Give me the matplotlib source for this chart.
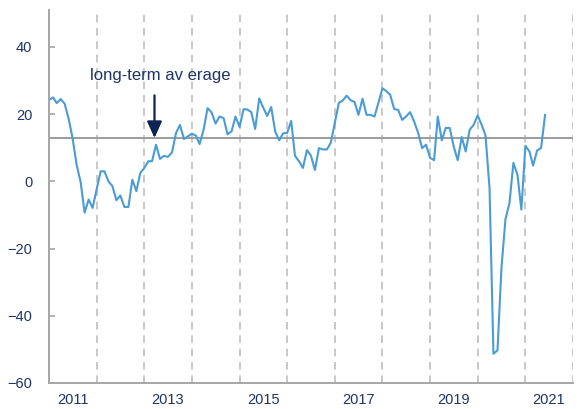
import pandas as pd
import matplotlib.pyplot as plt

# monthly index values, Jan 2011 - Jun 2021
values = [
    24.2, 25.0, 23.3, 24.5, 23.1, 18.6, 12.8, 4.9, -0.3, -9.3, -5.4, -7.9,      # 2011
    -2.4, 3.0, 3.0, 0.0, -1.4, -5.6, -4.2, -7.6, -7.6, 0.5, -2.9, 2.5,         # 2012
    4.0, 6.0, 6.0, 10.9, 6.7, 7.6, 7.3, 8.6, 14.4, 16.8, 12.6, 13.4,           # 2013
    14.2, 13.6, 11.1, 15.5, 21.8, 20.5, 17.2, 19.3, 18.8, 14.0, 14.9, 19.3,    # 2014
    16.2, 21.5, 21.4, 20.6, 15.6, 24.7, 22.0, 19.5, 22.1, 14.9, 12.2, 14.3,    # 2015
    14.4, 18.0, 7.6, 6.0, 4.0, 9.3, 7.7, 3.4, 9.9, 9.5, 9.5, 11.5,             # 2016
    17.5, 23.4, 24.0, 25.5, 24.2, 23.6, 19.8, 24.6, 19.8, 19.8, 19.3, 23.4,    # 2017
    27.7, 26.8, 25.8, 21.5, 21.3, 18.3, 19.3, 20.6, 17.8, 14.5, 9.9, 10.9,     # 2018
    7.0, 6.3, 19.3, 12.2, 15.9, 15.9, 10.4, 6.3, 13.2, 8.9, 15.4, 16.8,        # 2019
    19.6, 16.8, 13.7, -2.0, -51.3, -50.3, -26.0, -11.3, -6.4, 5.5, 2.0, -8.4,  # 2020
    10.6, 8.9, 4.7, 9.2, 9.9, 19.8,                                            # 2021
]
dates = pd.date_range('2011-01-01', periods=len(values), freq='MS')
long_term_avg = 12.8
year_labels = ['2011', '2013', '2015', '2017', '2019', '2021']
y_ticks = [-60, -40, -20, 0, 20, 40]

navy = '#1f3464'
line_blue = '#4a9cd6'
axis_grey = '#a6a6a6'

plt.rcParams['font.family'] = ['Liberation Sans', 'DejaVu Sans']

fig = plt.figure(figsize=(5.77, 4.09), dpi=100)
ax = fig.add_axes([49 / 577, 26 / 409, 524 / 577, 373 / 409])

# yearly dashed separators
for yr in range(2012, 2023):
    ax.axvline(pd.Timestamp(f'{yr}-01-01'), color='#c4c4c4', lw=1.3,
               ls=(0, (4.2, 3.2)), zorder=0)

ax.axhline(long_term_avg, color='#9c9c9c', lw=1.4, zorder=1)
ax.plot(dates, values, color=line_blue, lw=1.5, zorder=2)

ax.set_xlim(pd.Timestamp('2011-01-01'), pd.Timestamp('2022-01-01'))
ax.set_ylim(-60, 51)
ax.set_yticks(y_ticks)
ax.set_xticks([pd.Timestamp(f'{y}-07-01') for y in year_labels])
ax.set_xticklabels(year_labels)

ax.tick_params(axis='x', length=0, pad=7, labelcolor=navy, labelsize=10.5)
ax.tick_params(axis='y', direction='in', length=4, width=1.2, color=axis_grey,
               pad=12, labelcolor=navy, labelsize=10.5)

for side in ['top', 'right']:
    ax.spines[side].set_visible(False)
for side in ['left', 'bottom']:
    ax.spines[side].set_color(axis_grey)
    ax.spines[side].set_linewidth(1.4)

# annotation
ax.text(pd.Timestamp('2013-05-06'), 31.6, 'long-term av erage', color=navy,
        fontsize=12, ha='center', va='center')
ax.annotate('', xy=(pd.Timestamp('2013-03-20'), 12.9),
            xytext=(pd.Timestamp('2013-03-20'), 25.6),
            arrowprops=dict(arrowstyle='-|>,head_width=0.45,head_length=1.0',
                            color='#0d2352', lw=1.6, shrinkA=0, shrinkB=0,
                            mutation_scale=10))

fig.savefig('out.png', dpi=100)
